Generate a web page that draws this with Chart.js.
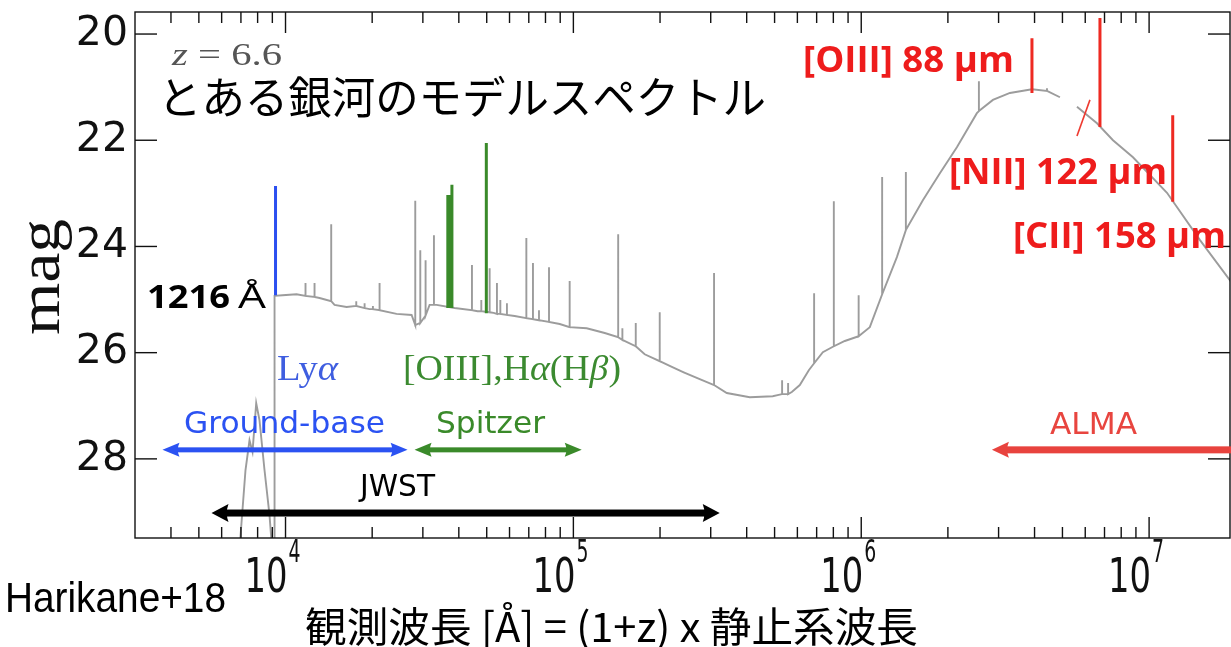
<!DOCTYPE html>
<html>
<head>
<meta charset="utf-8">
<script src="https://cdn.jsdelivr.net/npm/chart.js@4/dist/chart.umd.min.js"></script>
<style>
  html, body { margin: 0; padding: 0; background: #fff; }
  canvas { display: block; }
</style>
</head>
<body>
<canvas id="sed" width="1231" height="647"></canvas>
<script>
// continuum of the model spectrum (observed wavelength in Angstrom, AB mag)
const contWave = [6921, 7261, 7497, 7679, 7910, 8120, 8453, 8798, 9012, 9150, 9160, 9763, 10919, 13130,
  14802, 16293, 19590, 24305, 27416, 31660, 33480, 38675, 46490, 52840, 62520, 89650, 111240, 128500,
  176900, 216100, 241700, 274800, 341100, 410100, 492800, 573900, 611800, 657500, 735500, 877000,
  1071000, 1330000, 1637000, 1876000, 2149000, 2522000, 2867000, 3285000, 3918000, 4900000, 5200000,
  5616000, 6591000, 7491000, 8790000, 11539000, 15024000, 19420000];
const contMag = [29.7, 28.21, 27.65, 27.87, 26.95, 27.27, 28.21, 29.06, 29.8, 29.8, 24.93, 24.92, 24.90, 24.97,
  25.10, 25.14, 25.18, 25.27, 25.29, 25.10, 25.10, 25.16, 25.22, 25.25, 25.31, 25.46, 25.54, 25.63,
  26.03, 26.25, 26.37, 26.50, 26.76, 26.84, 26.82, 26.74, 26.61, 26.33, 25.99, 25.78,
  25.52, 24.20, 23.13, 22.62, 22.13, 21.49, 21.24, 21.11, 21.04, 21.19, null,
  21.37, 21.68, 22.00, 22.32, 22.99, 23.88, 24.69];

// gray emission lines: wavelength, peak mag, mag at the foot of the line
const lineWave = [11734, 12613, 14412, 17610, 18824, 20120, 21220, 28230, 29390, 30660, 32780, 44430, 47880,
  51180, 54260, 55750, 58770, 68650, 72380, 75950, 82290, 97070, 143100, 148000, 164700, 199500, 308100,
  531000, 557100, 686000, 803100, 979500, 1182000, 1429000, 2563000, 4418000];
const linePeak = [24.69, 24.69, 23.58, 25.03, 25.07, 25.12, 24.69, 23.14, 24.07, 24.26, 23.79, 24.35, 25.01,
  24.41, 24.69, 25.01, 25.07, 23.84, 24.31, 25.20, 24.39, 24.65, 23.77, 25.54, 25.44, 25.24, 24.50,
  26.52, 26.57, 24.88, 23.15, 24.92, 22.69, 22.60, 20.89, 21.02];
const lineBase = [24.93, 24.95, 25.03, 25.12, 25.16, 25.18, 25.20, 25.48, 25.44, 25.30, 25.10, 25.20, 25.22,
  25.24, 25.27, 25.27, 25.29, 25.35, 25.37, 25.39, 25.42, 25.52, 25.71, 25.76, 25.88, 26.16, 26.61,
  26.78, 26.78, 26.20, 25.88, 25.69, 24.90, 23.69, 21.45, 21.07];

// highlighted lines
const lyaWave = [9232], lyaTop = [22.86], lyaBottom = [24.92];
const optWave = [36630, 37250, 37850, 49840];
const optTop = [23.03, 23.03, 22.84, 22.05];
const optBottom = [25.16, 25.16, 25.16, 25.26];
const firWave = [3918000, 6750000, 12080000];
const firTop = [20.08, 19.70, 21.53];
const firBottom = [21.11, 21.75, 23.16];
const slashWave = [5616000, 6230000], slashMag = [21.92, 21.24];

// wavelength coverage of each facility
const bandNames = ['Ground-base', 'Spitzer', 'JWST', 'ALMA'];
const bandFrom = [3737, 28070, 5532, 2844000];
const bandTo = [26550, 106900, 322400, 2.0e7];
const bandMag = [27.83, 27.83, 29.02, 27.83];

const xMin = 3000, xMax = 1.91e7;
const yMin = 19.585, yMax = 29.49;
const xMajor = [1e4, 1e5, 1e6, 1e7];
const yTicks = [20, 22, 24, 26, 28];

const spectrum = contWave.map((w, i) => ({ x: w, y: contMag[i] }));
lineWave.forEach((w, i) => {
  spectrum.push({ x: w, y: lineBase[i] }, { x: w, y: linePeak[i] }, { x: w, y: lineBase[i] });
});
spectrum.sort((a, b) => a.x - b.x);

function stick(w, top, bottom, color, width) {
  return {
    data: [{ x: w, y: top }, { x: w, y: bottom }],
    borderColor: color, borderWidth: width, borderCapStyle: 'butt', pointRadius: 0, order: 1
  };
}

const datasets = [{
  data: spectrum, borderColor: '#9c9c9c', borderWidth: 1.9, pointRadius: 0,
  tension: 0, spanGaps: false, order: 2
}];
lyaWave.forEach((w, i) => datasets.push(stick(w, lyaTop[i], lyaBottom[i], '#2b4ff0', 3)));
optWave.forEach((w, i) => datasets.push(stick(w, optTop[i], optBottom[i], '#3a8a2a', 3)));
firWave.forEach((w, i) => datasets.push(stick(w, firTop[i], firBottom[i], '#ee2a22', 3)));
datasets.push({
  data: slashWave.map((w, i) => ({ x: w, y: slashMag[i] })),
  borderColor: '#ee3a30', borderWidth: 1.6, pointRadius: 0, order: 1
});

// text with several font runs, squeezed to span x0..x1
function runs(ctx, parts, x0, x1, base, color) {
  ctx.save();
  let total = 0;
  parts.forEach(p => { ctx.font = p[1]; total += ctx.measureText(p[0]).width; });
  ctx.translate(x0, base);
  ctx.scale((x1 - x0) / total, 1);
  ctx.fillStyle = color;
  ctx.textAlign = 'left';
  ctx.textBaseline = 'alphabetic';
  let cx = 0;
  parts.forEach(p => {
    ctx.font = p[1];
    ctx.fillText(p[0], cx, 0);
    cx += ctx.measureText(p[0]).width;
  });
  ctx.restore();
}

function arrow(ctx, x0, x1, y, width, headLen, headHalf, both, color) {
  ctx.save();
  ctx.fillStyle = color;
  ctx.fillRect(x0 + headLen * 0.7, y - width / 2, x1 - x0 - headLen * (both ? 1.4 : 0.7), width);
  const head = (tip, dir) => {
    ctx.beginPath();
    ctx.moveTo(tip, y);
    ctx.lineTo(tip + dir * headLen, y - headHalf);
    ctx.quadraticCurveTo(tip + dir * headLen * 0.8, y, tip + dir * headLen, y + headHalf);
    ctx.closePath();
    ctx.fill();
  };
  head(x0, 1);
  if (both) head(x1, -1);
  ctx.restore();
}

const bandStyle = [
  { color: '#2b52f2', width: 5, half: 7, both: true },
  { color: '#3a8a2a', width: 5, half: 7, both: true },
  { color: '#000000', width: 7, half: 9, both: true },
  { color: '#e8433e', width: 7, half: 8, both: false }
];
const bandLabel = [[184, 385, 433], [436, 545, 433], [360, 435, 496], [1050, 1137, 434]];
const bandText = ['#2b52f2', '#3a8a2a', '#000000', '#e8453f'];

const decorations = {
  id: 'decorations',
  afterDatasetsDraw(chart) {
    const { ctx, chartArea: a, scales: { x, y } } = chart;
    ctx.save();
    ctx.strokeStyle = '#111';
    ctx.lineWidth = 1.4;
    ctx.strokeRect(a.left, a.top, a.right - a.left, a.bottom - a.top);
    const seg = (x0, y0, x1, y1) => { ctx.beginPath(); ctx.moveTo(x0, y0); ctx.lineTo(x1, y1); ctx.stroke(); };
    for (let k = 3; k <= 7; k++) {
      for (let m = 1; m <= 9; m++) {
        const v = m * Math.pow(10, k);
        if (v <= xMin || v >= xMax) continue;
        const px = x.getPixelForValue(v);
        const len = m === 1 ? 21 : 11;
        seg(px, a.bottom, px, a.bottom - len);
        seg(px, a.top, px, a.top + len);
      }
    }
    yTicks.forEach(v => {
      const py = y.getPixelForValue(v);
      seg(a.left, py, a.left + 22, py);
      seg(a.right, py, a.right - 22, py);
    });
    ctx.restore();

    bandNames.forEach((name, i) => {
      const s = bandStyle[i];
      const py = y.getPixelForValue(bandMag[i]);
      const x1 = Math.min(x.getPixelForValue(bandTo[i]), chart.width);
      arrow(ctx, x.getPixelForValue(bandFrom[i]), x1, py, s.width, 17, s.half, s.both, s.color);
    });
  },
  afterDraw(chart) {
    const { ctx, scales: { x } } = chart;
    const serif = '"Liberation Serif"';
    const sans = '"DejaVu Sans"';
    const jp = '"Noto Sans CJK JP"';
    const bold = '"Open Sans"';

    xMajor.forEach(v => {
      const px = x.getPixelForValue(v);
      runs(ctx, [['10', '48px ' + sans]], px - 41, px + 2, 592, '#111');
      runs(ctx, [[String(Math.round(Math.log10(v))), '32px ' + sans]], px + 3, px + 15, 562, '#111');
    });

    ctx.save();
    ctx.translate(59, 277);
    ctx.rotate(-Math.PI / 2);
    runs(ctx, [['mag', '60px ' + serif]], -58, 58, 0, '#111');
    ctx.restore();

    runs(ctx, [['z', 'italic 31px ' + serif], [' = 6.6', '31px ' + serif]], 172, 282, 65, '#555');
    runs(ctx, [['とある銀河のモデルスペクトル', '44px ' + jp]], 158, 766, 114, '#000');
    runs(ctx, [['1216', 'bold 33px ' + bold]], 147, 230, 308, '#000');
    runs(ctx, [['Å', '33px ' + bold]], 238, 266, 308, '#000');
    runs(ctx, [['Ly', '35px ' + serif], ['α', 'italic 35px ' + serif]], 277, 338, 380, '#3f5ee0');
    runs(ctx, [['[OIII],H', '35px ' + serif], ['α', 'italic 35px ' + serif], ['(H', '35px ' + serif],
      ['β', 'italic 35px ' + serif], [')', '35px ' + serif]], 403, 621, 380, '#3b8a30');

    bandNames.forEach((name, i) => {
      const l = bandLabel[i];
      runs(ctx, [[name, '30px ' + sans]], l[0], l[1], l[2], bandText[i]);
    });

    runs(ctx, [['[OIII] 88 μm', 'bold 35px ' + bold]], 803, 1014, 72, '#ee1c1c');
    runs(ctx, [['[NII] 122 μm', 'bold 35px ' + bold]], 949, 1167, 184, '#ee1c1c');
    runs(ctx, [['[CII] 158 μm', 'bold 35px ' + bold]], 1013, 1226, 248, '#ee1c1c');

    runs(ctx, [['Harikane+18', '42px "Liberation Sans"']], 5, 226, 612, '#000');
    runs(ctx, [['観測波長 [Å] = (1+z) x 静止系波長', '41px ' + jp]], 305, 918, 642, '#000');
  }
};

new Chart(document.getElementById('sed'), {
  type: 'line',
  data: { datasets: datasets },
  options: {
    responsive: false,
    animation: false,
    devicePixelRatio: 1,
    layout: { padding: { top: 12, right: 1, left: 0, bottom: 0 } },
    plugins: { legend: { display: false }, tooltip: { enabled: false } },
    scales: {
      x: {
        type: 'logarithmic', min: xMin, max: xMax,
        ticks: { display: false },
        grid: { display: false },
        border: { display: false },
        afterFit: s => { s.height = 109; }
      },
      y: {
        type: 'linear', reverse: true, min: yMin, max: yMax,
        afterBuildTicks: s => { s.ticks = yTicks.map(v => ({ value: v })); },
        ticks: { font: { family: 'DejaVu Sans', size: 41 }, color: '#111', padding: 7 },
        grid: { display: false, drawTicks: false, tickLength: 0 },
        border: { display: false },
        afterFit: s => { s.width = 135; s.paddingTop = 0; s.paddingBottom = 0; }
      }
    }
  },
  plugins: [decorations]
});
</script>
</body>
</html>
